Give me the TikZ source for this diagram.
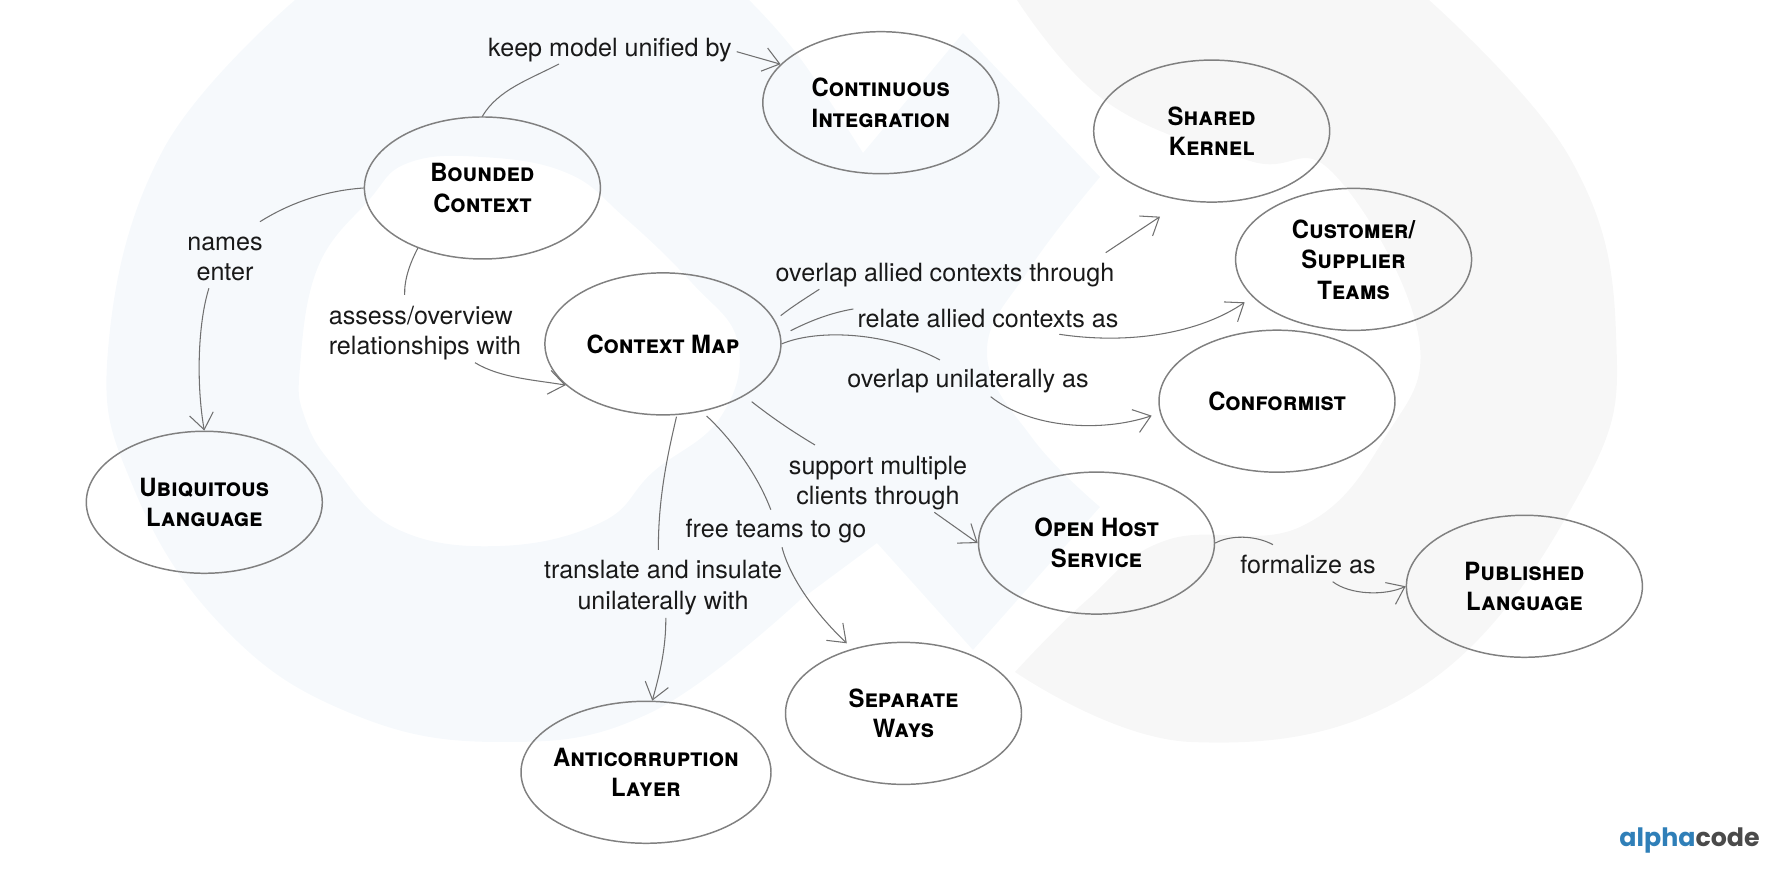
\documentclass[tikz,border=0pt]{standalone}
\usepackage{fontspec}
\setmainfont{TeX Gyre Heros}
\newfontfamily\conceptfont[FakeStretch=0.95]{TeX Gyre Heros}
\newfontfamily\logofont{Poppins}
\usetikzlibrary{arrows.meta}
\usetikzlibrary{positioning}
\usetikzlibrary{shapes.geometric}
\definecolor{ringblue}{HTML}{F6F9FC}
\definecolor{ringgray}{HTML}{F7F7F7}
\definecolor{linegray}{HTML}{707070}
\definecolor{rimgray}{HTML}{808080}
\definecolor{logoblue}{HTML}{2F7FB8}
\definecolor{logogray}{HTML}{4A4A4A}
\tikzset{
    concept/.style={
        draw=rimgray,
        ellipse,
        line width=0.42pt,
        minimum width=2.36cm,
        minimum height=1.42cm,
        inner xsep=-2mm,
        inner ysep=0pt,
        align=center,
        font=\conceptfont\fontsize{7.15}{8.7}\selectfont\bfseries\scshape
    },
    tag/.style={
        inner sep=1pt,
        align=center,
        text=black!90,
        font=\fontsize{7.15}{8.7}\selectfont
    },
    link/.style={
        draw=linegray,
        line width=0.3pt
    },
    linkto/.style={
        link,
        -{Straight Barb[length=1.6mm, width=2.4mm, line width=0.3pt]}
    }
}

\begin{document}
\begin{tikzpicture}
    \useasboundingbox (0,0) rectangle (17.8,8.78);
    % Background rings
    \fill[ringblue, even odd rule]
        plot[smooth, tension=0.7] coordinates {(2.95,8.78) (1.63,7.28) (1.08,5.28) (1.34,3.89)
            (2.23,2.51) (3.5,1.65) (5.0,1.36) (6.5,1.65) (8.0,2.78)}
        -- (8.77,3.35) -- (9.73,2.28) -- (11.0,3.71)
        -- plot[smooth, tension=0.7] coordinates {(11.0,3.71) (10.33,4.39) (9.87,5.25) (10.3,6.1) (11.0,7.01)}
        -- (9.63,8.45) -- (8.63,7.25)
        -- plot[smooth, tension=0.7] coordinates {(8.63,7.25) (8.0,8.2) (7.49,8.78)}
        -- cycle
        plot[smooth cycle, tension=0.7] coordinates {(3.0,5.11) (3.18,6.11) (3.69,6.78) (4.08,7.15)
            (4.82,7.21) (5.67,7.05) (6.24,6.61) (6.92,5.95) (7.38,5.35) (7.2,4.6) (6.53,4.06)
            (6.02,3.56) (5.0,3.32) (3.97,3.49) (3.35,4.1) (3.05,4.6)};
    \fill[ringgray]
        plot[smooth, tension=0.7] coordinates {(10.17,8.78) (11.08,7.75) (12.5,7.17) (13.33,7.05)
            (14.18,5.45) (13.84,4.39) (13.0,3.51) (11.67,3.38) (10.87,2.78) (10.15,2.06)}
        -- plot[smooth, tension=0.7] coordinates {(10.15,2.06) (11.91,1.36) (14.2,1.9) (15.82,3.89)
            (16.16,5.45) (15.7,7.2) (14.29,8.78)}
        -- cycle;

    % Concepts
    \node[concept] (bounded) at (4.824,6.9) {Bounded\\Context};
    \node[concept] (integration) at (8.808,7.753) {Continuous\\Integration};
    \node[concept] (kernel) at (12.117,7.469) {Shared\\Kernel};
    \node[concept] (supplier) at (13.536,6.186) {Customer/\\Supplier\\Teams};
    \node[concept] (conformist) at (12.77,4.768) {Conformist};
    \node[concept] (contextmap) at (6.629,5.341) {Context Map};
    \node[concept] (ubiquitous) at (2.043,3.757) {Ubiquitous\\Language};
    \node[concept] (openhost) at (10.965,3.349) {Open Host\\Service};
    \node[concept] (published) at (15.244,2.917) {Published\\Language};
    \node[concept] (separate) at (9.035,1.646) {Separate\\Ways};
    \node[concept, minimum width=2.5cm] (anticorruption) at (6.46,1.057) {Anticorruption\\Layer};

    % Labels
    \node[tag] (keep) at (6.1,8.28) {keep model unified by};
    \node[tag] (names) at (2.25,6.19) {names\\enter};
    \node[tag, align=left] (assess) at (4.25,5.45) {assess/overview\\relationships with};
    \node[tag] (allied) at (9.45,6.03) {overlap allied contexts through};
    \node[tag] (relate) at (9.88,5.59) {relate allied contexts as};
    \node[tag] (unilateral) at (9.68,4.97) {overlap unilaterally as};
    \node[tag] (support) at (8.78,3.95) {support multiple\\clients through};
    \node[tag] (free) at (7.76,3.47) {free teams to go};
    \node[tag] (translate) at (6.63,2.905) {translate and insulate\\unilaterally with};
    \node[tag] (formal) at (13.08,3.13) {formalize as};

    % Free line ends
    \coordinate (keepin) at (5.59,8.14);
    \coordinate (keepout) at (7.367,8.263);
    \coordinate (namesin) at (2.6,6.563);
    \coordinate (namesout) at (2.089,5.897);
    \coordinate (assessin) at (4.047,5.83);
    \coordinate (assessout) at (4.75,5.153);
    \coordinate (alliedfrom) at (7.807,5.623);
    \coordinate (alliedin) at (8.193,5.887);
    \coordinate (alliedout) at (11.057,6.253);
    \coordinate (alliedtip) at (11.6,6.613);
    \coordinate (relatefrom) at (7.907,5.473);
    \coordinate (relatein) at (8.533,5.69);
    \coordinate (relateout) at (10.593,5.437);
    \coordinate (relatetip) at (12.447,5.757);
    \coordinate (unilateralin) at (9.4,5.18);
    \coordinate (unilateralout) at (9.907,4.813);
    \coordinate (unilateraltip) at (11.517,4.623);
    \coordinate (supportfrom) at (7.517,4.763);
    \coordinate (supportin) at (8.15,4.33);
    \coordinate (supportout) at (9.343,3.657);
    \coordinate (freefrom) at (7.066,4.62);
    \coordinate (freein) at (7.708,3.683);
    \coordinate (freeout) at (7.82,3.307);
    \coordinate (freetip) at (8.468,2.347);
    \coordinate (translatefrom) at (6.765,4.613);
    \coordinate (translatein) at (6.584,3.28);
    \coordinate (translateout) at (6.658,2.6);
    \coordinate (formalin) at (12.73,3.333);
    \coordinate (formalout) at (13.327,2.963);

    % Connectors
    \draw[link] (bounded.90) .. controls (4.98,7.88) and (5.28,7.98) .. (keepin);
    \draw[linkto] (keepout) -- (integration.159);
    \draw[link] (bounded.180) .. controls (3.2,6.87) and (2.85,6.72) .. (namesin);
    \draw[linkto] (namesout) .. controls (1.98,5.55) and (1.96,4.95) .. (ubiquitous.90);
    \draw[link] (bounded.223) .. controls (4.1,6.15) and (4.04,5.98) .. (assessin);
    \draw[linkto] (assessout) .. controls (5.0,5.0) and (5.35,4.98) .. (contextmap.203);
    \draw[link] (alliedfrom) .. controls (7.93,5.72) and (8.06,5.8) .. (alliedin);
    \draw[linkto] (alliedout) -- (alliedtip);
    \draw[link] (relatefrom) .. controls (8.1,5.57) and (8.3,5.65) .. (relatein);
    \draw[linkto] (relateout) .. controls (11.3,5.33) and (12.0,5.45) .. (relatetip);
    \draw[link] (contextmap.0) .. controls (8.2,5.5) and (8.9,5.45) .. (unilateralin);
    \draw[linkto] (unilateralout) .. controls (10.3,4.5) and (11.0,4.45) .. (unilateraltip);
    \draw[link] (supportfrom) .. controls (7.75,4.58) and (7.95,4.45) .. (supportin);
    \draw[linkto] (supportout) -- (openhost.180);
    \draw[link] (freefrom) .. controls (7.25,4.45) and (7.55,4.1) .. (freein);
    \draw[linkto] (freeout) .. controls (7.9,3.0) and (8.15,2.65) .. (freetip);
    \draw[link] (translatefrom) .. controls (6.68,4.25) and (6.58,3.8) .. (translatein);
    \draw[linkto] (translateout) .. controls (6.66,2.3) and (6.6,2.05) .. (anticorruption.85);
    \draw[link] (openhost.0) .. controls (12.3,3.43) and (12.55,3.43) .. (formalin);
    \draw[linkto] (formalout) .. controls (13.5,2.83) and (13.85,2.82) .. (published.180);

    % Logo
    \node[inner sep=0pt, font=\logofont\fontsize{7.2}{8}\selectfont\bfseries] (logo) at (16.896,0.37) {\textcolor{logoblue}{alpha}\textcolor{logogray}{code}};
\end{tikzpicture}
\end{document}
